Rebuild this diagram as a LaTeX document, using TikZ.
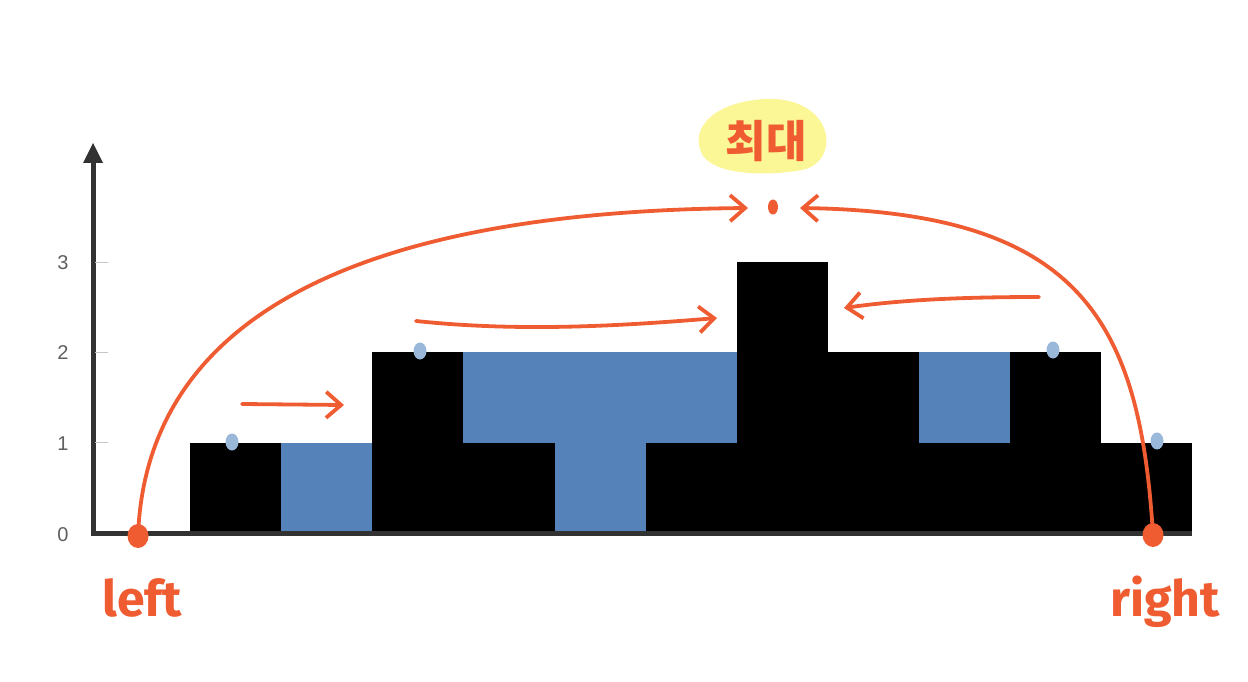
\documentclass[tikz,border=0pt]{standalone}
\usepackage{fontspec}
\setmainfont{Fira Sans}
\newfontfamily\krfont{Noto Sans CJK KR}
\newfontfamily\axfont{Liberation Sans}
\usetikzlibrary{arrows.meta,shapes.geometric}
\definecolor{pen}{RGB}{239,92,50}
\definecolor{water}{RGB}{84,130,185}
\definecolor{ldot}{RGB}{154,184,217}
\definecolor{hilite}{RGB}{251,246,150}
\definecolor{axisgray}{RGB}{50,50,50}
\definecolor{labgray}{RGB}{95,95,95}
\tikzset{
  barcell/.style={fill=black,draw=none},
  watercell/.style={fill=water,draw=none},
  penline/.style={draw=pen,line width=3.8pt,line cap=round,line join=round},
  penarrow/.style={penline,-{Straight Barb[length=15pt,width=26pt]}},
  pendot/.style={ellipse,fill=pen,draw=none,inner sep=0pt},
  bluedot/.style={ellipse,fill=ldot,draw=none,inner sep=0pt,minimum width=13pt,minimum height=17pt},
  ticklab/.style={font=\axfont\fontsize{20}{20}\selectfont,text=labgray,anchor=center},
  handtxt/.style={font=\bfseries\fontsize{50}{50}\selectfont,text=pen,inner sep=0pt}
}
\begin{document}
\begin{tikzpicture}[x=1pt,y=-1pt]
\useasboundingbox (0,0) rectangle (1248,682);
% bars: heights [0,1,0,2,1,0,1,3,2,1,2,1], water [0,0,1,0,1,2,1,0,0,1,0,0]
\def\cw{91.1}
\def\uh{90.3}
\foreach \i/\h/\w in {0/0/0,1/1/0,2/0/1,3/2/0,4/1/1,5/0/2,6/1/1,7/3/0,8/2/0,9/1/1,10/2/0,11/1/0}{
  \pgfmathsetmacro\xa{99+\cw*\i}
  \pgfmathsetmacro\xb{99+\cw*(\i+1)}
  \pgfmathsetmacro\ya{533-\uh*\h}
  \pgfmathsetmacro\yb{533-\uh*(\h+\w)}
  \ifnum\h>0 \fill[black] (\xa,533) rectangle (\xb,\ya); \fi
  \ifnum\w>0 \fill[water] (\xa,\ya) rectangle (\xb,\yb); \fi
}
% axes
\draw[axisgray,line width=5pt] (93,533) -- (1192,533);
\draw[axisgray,line width=5pt] (93,535.5) -- (93,160);
\fill[axisgray] (93,143) -- (103,163) -- (83,163) -- cycle;
\foreach \k in {1,2,3}{
  \draw[gray!45,line width=1pt] (95,{533-\uh*\k}) -- (108,{533-\uh*\k});
}
\node[ticklab] (t0) at (63,535) {0};
\node[ticklab] (t1) at (63,444) {1};
\node[ticklab] (t2) at (63,353) {2};
\node[ticklab] (t3) at (63,263) {3};
% blue dots
\node[bluedot] (b1) at (232,442) {};
\node[bluedot] (b2) at (420,351) {};
\node[bluedot] (b3) at (1053,350) {};
\node[bluedot] (b4) at (1157,441) {};
% highlight and label
\fill[hilite] (765,99) .. controls (835,96) and (842,162) .. (802,170)
  .. controls (770,176) and (718,176) .. (703,156)
  .. controls (688,130) and (712,102) .. (765,99) -- cycle;
\node[font=\krfont\bfseries\fontsize{44}{44}\selectfont,text=pen,inner sep=0pt] (maxlab) at (766,141) {최대};
% pointer dots
\node[pendot,minimum width=21pt,minimum height=24pt] (ldotn) at (138,536) {};
\node[pendot,minimum width=21pt,minimum height=24pt] (rdotn) at (1153,535) {};
\node[pendot,minimum width=10pt,minimum height=15pt] (tdot) at (773,207) {};
% texts
\node[handtxt] (lefttxt) at (142,598) {left};
\node[handtxt] (righttxt) at (1165,602) {right};
% long curves
\coordinate (lend) at (748,208);
\coordinate (rend) at (800,208);
\draw[penarrow] (ldotn.center) .. controls (145,350) and (300,212) .. (lend);
\draw[penarrow] (rdotn.center) .. controls (1140,320) and (1080,212) .. (rend);
% short arrows
\coordinate (a1s) at (242,404);
\coordinate (a1e) at (344,405);
\coordinate (a2s) at (416,321);
\coordinate (a2e) at (717,318);
\coordinate (a3s) at (1039,297);
\coordinate (a3e) at (844,308);
\draw[penarrow] (a1s) -- (a1e);
\draw[penarrow] (a2s) .. controls (520,332) and (620,326) .. (a2e);
\draw[penarrow] (a3s) .. controls (960,297) and (900,300) .. (a3e);
\end{tikzpicture}
\end{document}
